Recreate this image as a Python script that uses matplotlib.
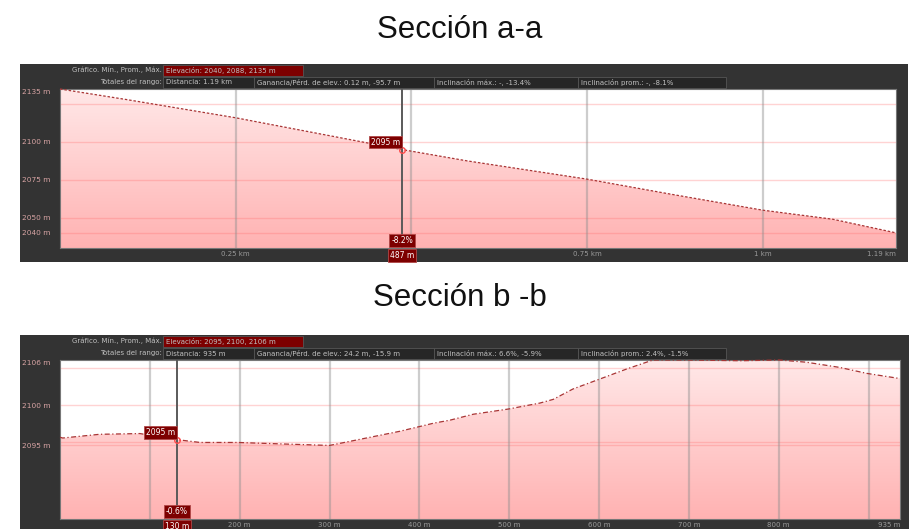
import numpy as np
import matplotlib.pyplot as plt
from matplotlib.patches import Rectangle, Polygon
from matplotlib.colors import LinearSegmentedColormap
from matplotlib.transforms import blended_transform_factory

W, H = 909, 529

# Sección a-a : distancia (km) y elevación (m)
dist_a = [0, 0.095, 0.25, 0.38, 0.487, 0.58, 0.75, 0.87, 1.0, 1.1, 1.19]
elev_a = [2135, 2128, 2116, 2104.5, 2095, 2087.5, 2075.5, 2065.5, 2055, 2049, 2040]
grid_x_a = [0.25, 0.5, 0.75, 1.0]
ticks_x_a = [0.25, 0.75, 1.0, 1.19]
labels_x_a = ["0.25 km", "0.75 km", "1 km", "1.19 km"]
grid_y_a = [2050, 2075, 2100, 2125]
ticks_y_a = [2040, 2050, 2075, 2100, 2135]
labels_y_a = ["2040 m", "2050 m", "2075 m", "2100 m", "2135 m"]
ybot_a = 2030
cursor_a = 0.487
cursor_labels_a = ["2095 m", "-8.2%", "487 m"]
header_a = ["Elevación: 2040, 2088, 2135 m",
            "Distancia: 1.19 km",
            "Ganancia/Pérd. de elev.: 0.12 m, -95.7 m",
            "Inclinación máx.: -, -13.4%",
            "Inclinación prom.: -, -8.1%"]

# Sección b-b : distancia (m) y elevación (m)
dist_b = [0, 3, 44, 89, 129, 156, 198, 248, 300, 341, 378, 416, 434, 460, 499,
          534, 549, 571, 600, 631, 660, 699, 757, 801, 831, 868, 898, 935]
elev_b = [2095.7, 2095.6, 2096.1, 2096.2, 2095.4, 2095.0, 2095.0, 2094.8, 2094.6,
          2095.6, 2096.5, 2097.6, 2098.0, 2098.8, 2099.5, 2100.3, 2100.8, 2102.2,
          2103.5, 2104.9, 2106.1, 2106.1, 2106.0, 2106.1, 2105.8, 2105.1, 2104.3, 2103.6]
grid_x_b = [100, 200, 300, 400, 500, 600, 700, 800, 900]
ticks_x_b = [200, 300, 400, 500, 600, 700, 800, 935]
labels_x_b = ["200 m", "300 m", "400 m", "500 m", "600 m", "700 m", "800 m", "935 m"]
grid_y_b = [2095, 2100, 2105]
ticks_y_b = [2094.6, 2100, 2106.1]
labels_y_b = ["2095 m", "2100 m", "2106 m"]
ybot_b = 2084.7
cursor_b = 130
cursor_labels_b = ["2095 m", "-0.6%", "130 m"]
header_b = ["Elevación: 2095, 2100, 2106 m",
            "Distancia: 935 m",
            "Ganancia/Pérd. de elev.: 24.2 m, -15.9 m",
            "Inclinación máx.: 6.6%, -5.9%",
            "Inclinación prom.: 2.4%, -1.5%"]

DARK = "#333333"
BOXRED = "#7d0000"
fill_cmap = LinearSegmentedColormap.from_list("perfil", ["#ffe8e8", "#ffb2b2"])


def fbox(x0, y0, x1, y1):
    # pixel box (top-left origin) -> figure fraction rect
    return (x0 / W, 1 - y1 / H), (x1 - x0) / W, (y1 - y0) / H


fig = plt.figure(figsize=(W / 100, H / 100), dpi=100)
fig.patch.set_facecolor("white")


def panel(off, plot_right, dark_right, dark_bottom, dist, elev, gx, tx, lx, gy, ty, ly,
          ybot, cur, cur_labels, header, line_style, title, title_y):
    fig.text(460 / W, 1 - title_y / H, title, ha="center", va="center",
             fontsize=22.5, family="Liberation Sans", color="#111111")

    xy, w, h = fbox(20, 64 + off, dark_right, dark_bottom)
    fig.add_artist(Rectangle(xy, w, h, transform=fig.transFigure, fc=DARK, ec="none", zorder=-1))

    # header rows
    hs = dict(fontsize=5, color="#c0c0c0", va="center")
    fig.text(162 / W, 1 - (70 + off) / H, "Gráfico. Mín., Prom., Máx.", ha="right", **hs)
    fig.text(162 / W, 1 - (82 + off) / H, "Totales del rango:", ha="right", **hs)
    xy, w, h = fbox(163, 65 + off, 303, 76 + off)
    fig.add_artist(Rectangle(xy, w, h, transform=fig.transFigure, fc=BOXRED, ec="#555555", lw=0.6))
    fig.text(166 / W, 1 - (70.5 + off) / H, header[0], ha="left", **hs)
    edges = [163, 254, 434, 578, 726]
    for i, txt in enumerate(header[1:]):
        xy, w, h = fbox(edges[i], 77 + off, edges[i + 1], 88 + off)
        fig.add_artist(Rectangle(xy, w, h, transform=fig.transFigure, fc="#262626", ec="#555555", lw=0.6))
        fig.text((edges[i] + 3) / W, 1 - (82.5 + off) / H, txt, ha="left", **hs)

    xy, w, h = fbox(60, 89 + off, plot_right, 248 + off)
    ax = fig.add_axes([xy[0], xy[1], w, h])
    ax.set_facecolor("white")
    ytop = max(elev)
    x0, x1 = dist[0], dist[-1]
    ax.set_xlim(x0, x1)
    ax.set_ylim(ybot, ytop)

    # gradient fill under the profile
    grad = np.linspace(0, 1, 256).reshape(-1, 1)
    im = ax.imshow(grad, extent=[x0, x1, ybot, ytop], aspect="auto", cmap=fill_cmap,
                   origin="upper", zorder=1)
    verts = np.column_stack([np.r_[x0, dist, x1], np.r_[ybot, elev, ybot]])
    clip = Polygon(verts, closed=True, fc="none", ec="none")
    ax.add_patch(clip)
    im.set_clip_path(clip)

    for y in gy + [min(elev)]:
        ax.axhline(y, color="#ff7070", alpha=0.3, lw=1, zorder=2)
    for x in gx:
        ax.axvline(x, color="#909090", alpha=0.45, lw=1.6, zorder=2)

    ax.plot(dist, elev, color="#a83535", lw=0.9, ls=line_style, zorder=3, clip_on=False)

    # cursor
    ce = np.interp(cur, dist, elev)
    ax.axvline(cur, color="#5a5a5a", lw=1.4, zorder=4)
    ax.plot(cur, ce, "o", mfc="none", mec="#ff4a4a", ms=4, mew=1, zorder=5)
    bb = dict(boxstyle="square,pad=0.25", fc=BOXRED, ec="#b04848", lw=0.6)
    ax.annotate(cur_labels[0], xy=(cur, ce), xytext=(-2, 3), textcoords="offset pixels",
                ha="right", va="bottom", fontsize=5.5, color="white", bbox=bb, zorder=6)
    tr = blended_transform_factory(ax.transData, ax.transAxes)
    ax.text(cur, 0.045, cur_labels[1], transform=tr, ha="center", va="center",
            fontsize=5.5, color="white", bbox=bb, zorder=6)
    ax.text(cur, -0.045, cur_labels[2], transform=tr, ha="center", va="center",
            fontsize=5.5, color="white", bbox=bb, zorder=6, clip_on=False)

    ax.set_xticks(tx, lx)
    ax.tick_params(axis="x", length=0, pad=2.5, labelsize=5, labelcolor="#9a9a9a")
    ax.get_xticklabels()[-1].set_ha("right")
    ax.set_yticks(ty, ly)
    ax.tick_params(axis="y", length=0, pad=27.5, labelsize=5.3, labelcolor="#d8a4a4")
    for lbl in ax.get_yticklabels():
        lbl.set_ha("left")
    ax.get_yticklabels()[-1].set_va("top")
    for s in ax.spines.values():
        s.set_color("#777777")
        s.set_linewidth(0.8)
    return ax


panel(0, 896, 908, 262, dist_a, elev_a, grid_x_a, ticks_x_a, labels_x_a, grid_y_a,
      ticks_y_a, labels_y_a, ybot_a, cursor_a, cursor_labels_a, header_a,
      (0, (2, 1.5)), "Sección a-a", 30)
panel(271, 900, 909, 529, dist_b, elev_b, grid_x_b, ticks_x_b, labels_x_b, grid_y_b,
      ticks_y_b, labels_y_b, ybot_b, cursor_b, cursor_labels_b, header_b,
      (0, (4, 2, 1, 2)), "Sección b -b", 298)

fig.savefig("out.png", dpi=100)
